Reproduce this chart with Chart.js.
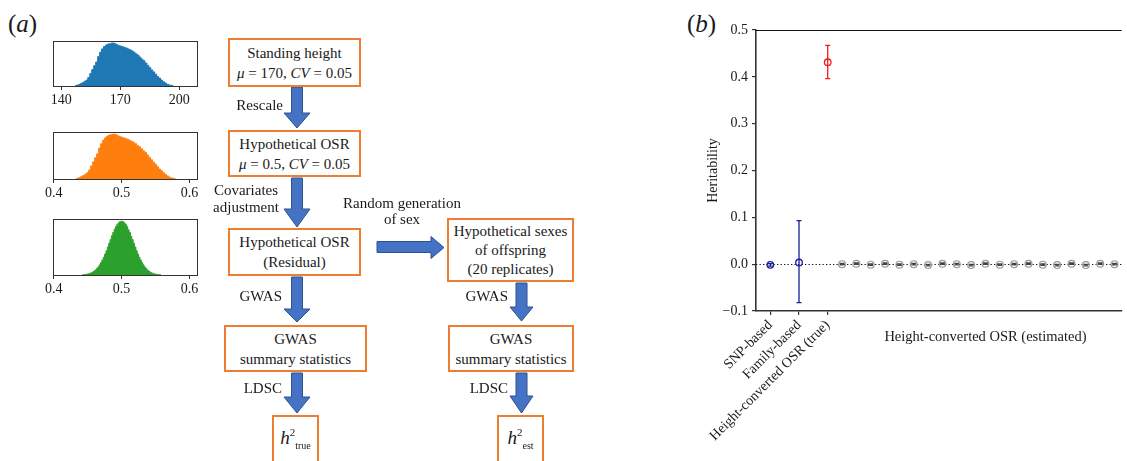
<!DOCTYPE html>
<html>
<head>
<meta charset="utf-8">
<script src="https://cdn.jsdelivr.net/npm/chart.js@4.4.1/dist/chart.umd.min.js"></script>
<style>
  body { margin:0; width:1127px; height:461px; overflow:hidden; background:#fff; position:relative;
         font-family:"Liberation Serif","DejaVu Serif",serif; color:#1a1a1a; }
  canvas { position:absolute; }
  .panel { position:absolute; font-size:25px; line-height:26px; }
  .box { position:absolute; box-sizing:border-box; border:2px solid #ed7d31; background:#fff;
         display:flex; flex-direction:column; justify-content:center; align-items:center;
         font-size:15px; line-height:20px; text-align:center; white-space:nowrap; }
  .lbl { position:absolute; font-size:15px; line-height:17px; white-space:nowrap; }
  .h2 i { font-size:19px; }
  .h2 .sup { font-size:11px; position:relative; top:-8px; }
  .h2 .sub { font-size:10px; position:relative; top:5px; }
</style>
</head>
<body>

<div class="panel" style="left:8px;top:11px;">(<i>a</i>)</div>
<div class="panel" style="left:687px;top:11px;">(<i>b</i>)</div>

<canvas id="histHeight" width="170" height="72" style="left:40px;top:38px;"></canvas>
<canvas id="histOsr" width="170" height="74" style="left:40px;top:129px;"></canvas>
<canvas id="histResid" width="170" height="83" style="left:40px;top:216px;"></canvas>

<!-- flowchart -->
<svg width="1127" height="461" style="position:absolute;left:0;top:0;">
  <g fill="#4472c4" stroke="#2f528f" stroke-width="1">
    <polygon points="291.5,87 302.5,87 302.5,113 310,113 297,128 284,113 291.5,113"/>
    <polygon points="291.5,178 302.5,178 302.5,209 310,209 297,227 284,209 291.5,209"/>
    <polygon points="291.5,277 302.5,277 302.5,309 310,309 297,322 284,309 291.5,309"/>
    <polygon points="291.5,373 302.5,373 302.5,397 310,397 297,413 284,397 291.5,397"/>
    <polygon points="516,283 527,283 527,307 533,307 521.5,321 510,307 516,307"/>
    <polygon points="516,373 527,373 527,396 533,396 521.5,413 510,396 516,396"/>
    <polygon points="377,241.5 431,241.5 431,236.5 444,247.5 431,258.5 431,252.5 377,252.5"/>
  </g>
</svg>

<div class="box" style="left:228px;top:38px;width:133px;height:49px;">
  <div>Standing height</div><div><i>μ</i> = 170, <i>CV</i> = 0.05</div>
</div>
<div class="box" style="left:228px;top:130px;width:133px;height:47px;">
  <div>Hypothetical OSR</div><div><i>μ</i> = 0.5, <i>CV</i> = 0.05</div>
</div>
<div class="box" style="left:228px;top:228px;width:133px;height:48px;">
  <div>Hypothetical OSR</div><div>(Residual)</div>
</div>
<div class="box" style="left:447px;top:218px;width:127px;height:64px;line-height:19px;">
  <div>Hypothetical sexes</div><div>of offspring</div><div>(20 replicates)</div>
</div>
<div class="box" style="left:224px;top:325px;width:143px;height:47px;">
  <div>GWAS</div><div>summary statistics</div>
</div>
<div class="box" style="left:448px;top:325px;width:126px;height:47px;">
  <div>GWAS</div><div>summary statistics</div>
</div>
<div class="box h2" style="left:272px;top:415px;width:47px;height:60px;padding-bottom:12px;">
  <span><i>h</i><span class="sup">2</span><span class="sub">true</span></span>
</div>
<div class="box h2" style="left:497px;top:415px;width:47px;height:60px;padding-bottom:12px;">
  <span><i>h</i><span class="sup">2</span><span class="sub">est</span></span>
</div>

<div class="lbl" style="right:844px;top:97px;">Rescale</div>
<div class="lbl" style="left:201px;top:182px;width:90px;text-align:center;">Covariates<br>adjustment</div>
<div class="lbl" style="left:332px;top:195px;width:140px;text-align:center;line-height:16px;">Random generation<br>of sex</div>
<div class="lbl" style="right:845px;top:288px;">GWAS</div>
<div class="lbl" style="right:845px;top:380px;">LDSC</div>
<div class="lbl" style="right:619px;top:288px;">GWAS</div>
<div class="lbl" style="right:619px;top:380px;">LDSC</div>

<canvas id="h2Chart" width="447" height="461" style="left:680px;top:0px;"></canvas>

<script>
const FONT = '"Liberation Serif", "DejaVu Serif", serif';

// histogram counts (relative heights)
const heightBinStart = 147;
const heightBinWidth = 1;
const heightCounts = [1, 2, 4, 7, 10, 14, 18, 26, 38, 50,
  62, 73, 90, 103, 113, 120, 125, 128, 129, 131,
  130, 127, 124, 122, 120, 118, 116, 113, 110, 107,
  103, 98, 94, 88, 82, 77, 70, 63, 56, 49,
  43, 36, 29, 24, 18, 13, 9, 5, 3, 2, 1];
// OSR is the rescaled height, same counts on new bins
const osrBinStart = 0.4324;
const osrBinWidth = 0.00294;
const osrCounts = heightCounts;
const residBinStart = 0.442;
const residBinWidth = 0.002;
const residCounts = [0.5, 0.6, 0.9, 1.2, 1.7, 2.3, 3.1, 4.2, 5.6, 7.3,
  9.5, 12, 15, 19, 23, 28, 33, 39, 45, 52,
  59, 66, 73, 79, 85, 90, 94, 97, 99, 100,
  99, 97, 94, 90, 84, 79, 72, 66, 59, 52,
  45, 39, 33, 28, 23, 19, 15, 12, 9.4, 7.2,
  5.5, 4.1, 3.0, 2.2, 1.6, 1.1, 0.8, 0.6, 0.4];
const heightTicks = [140, 170, 200];
const osrTicks = [0.4, 0.5, 0.6];

// panel b
const refLabels = ['SNP-based', 'Family-based', 'Height-converted OSR (true)'];
const refX = [1, 3, 5];
const refH2 = [-0.0015, 0.0035, 0.431];
const refLo = [-0.004, -0.082, 0.396];
const refHi = [0.001, 0.093, 0.467];
const refColors = ['#1e1e9c', '#1e1e9c', '#f01c1c'];
const repX = [6, 7, 8, 9, 10, 11, 12, 13, 14, 15, 16, 17, 18, 19, 20, 21, 22, 23, 24, 25];
const repH2 = [0.000, 0.001, -0.001, 0.001, -0.001, 0.000, -0.002, 0.001, 0.000, -0.002,
  0.001, -0.001, 0.000, 0.001, -0.001, -0.002, 0.001, -0.002, 0.001, 0.000];
const repSe = [0.0015, 0.0015, 0.0015, 0.0015, 0.0015, 0.0015, 0.0015, 0.0015, 0.0015, 0.0015,
  0.0015, 0.0015, 0.0015, 0.0015, 0.0015, 0.0015, 0.0015, 0.0015, 0.0015, 0.0015];
const estLabel = 'Height-converted OSR (estimated)';
const estLabelX = 16;
const yTicks = [-0.1, 0, 0.1, 0.2, 0.3, 0.4, 0.5];

const frame = {
  id: 'frame',
  afterDraw(chart) {
    const { ctx, chartArea: a } = chart;
    ctx.save();
    ctx.strokeStyle = '#333';
    ctx.lineWidth = 1;
    ctx.strokeRect(Math.round(a.left) + 0.5, Math.round(a.top) + 0.5,
      Math.round(a.right - a.left), Math.round(a.bottom - a.top));
    ctx.restore();
  }
};

function histogram(id, start, width, counts, color, xMin, xMax, ticks, yMax) {
  const pts = counts.map((c, i) => ({ x: start + i * width, y: c }));
  new Chart(document.getElementById(id), {
    type: 'line',
    data: { datasets: [{ data: pts, stepped: 'middle', fill: 'origin',
      backgroundColor: color, borderColor: color, borderWidth: 1, pointRadius: 0 }] },
    options: {
      responsive: false, animation: false, devicePixelRatio: 1,
      layout: { padding: { left: 13, right: 13, top: 3, bottom: 0 } },
      plugins: { legend: { display: false }, tooltip: { enabled: false } },
      scales: {
        x: {
          type: 'linear', min: xMin, max: xMax,
          afterBuildTicks: s => { s.ticks = ticks.map(v => ({ value: v })); },
          afterFit: s => { s.height = 24; s.paddingLeft = 0; s.paddingRight = 0; },
          ticks: { color: '#1a1a1a', padding: 2, maxRotation: 0, font: { family: FONT, size: 14 },
            callback: v => String(v) },
          grid: { drawOnChartArea: false, drawTicks: true, tickLength: 4, color: '#333' },
          border: { display: false }
        },
        y: { display: false, min: 0, max: yMax }
      }
    },
    plugins: [frame]
  });
}

histogram('histHeight', heightBinStart, heightBinWidth, heightCounts, '#1f77b4', 135.8, 209, heightTicks, 137);
histogram('histOsr', osrBinStart, osrBinWidth, osrCounts, '#ff7f0e', 0.399, 0.611, osrTicks, 137);
histogram('histResid', residBinStart, residBinWidth, residCounts, '#2ca02c', 0.399, 0.611, osrTicks, 104);

const errorBars = {
  id: 'errorBars',
  beforeDatasetsDraw(chart) {
    const { ctx, chartArea, scales: { x, y } } = chart;
    ctx.save();
    // dotted zero line
    const y0 = Math.round(y.getPixelForValue(0)) + 0.5;
    ctx.strokeStyle = '#111';
    ctx.lineWidth = 1.2;
    ctx.setLineDash([1.3, 2.2]);
    ctx.beginPath();
    ctx.moveTo(chartArea.left, y0);
    ctx.lineTo(chartArea.right, y0);
    ctx.stroke();
    ctx.setLineDash([]);
    chart.data.datasets.forEach(ds => {
      ds.data.forEach((p, i) => {
        const px = x.getPixelForValue(p.x);
        const top = y.getPixelForValue(ds.errHi[i]);
        const bot = y.getPixelForValue(ds.errLo[i]);
        ctx.strokeStyle = Array.isArray(ds.errColor) ? ds.errColor[i] : ds.errColor;
        ctx.lineWidth = 1.3;
        ctx.beginPath();
        ctx.moveTo(px, top); ctx.lineTo(px, bot);
        ctx.moveTo(px - 2.5, top); ctx.lineTo(px + 2.5, top);
        ctx.moveTo(px - 2.5, bot); ctx.lineTo(px + 2.5, bot);
        ctx.stroke();
      });
    });
    ctx.restore();
  },
  afterDraw(chart) {
    const { ctx, chartArea, scales: { x } } = chart;
    ctx.save();
    ctx.strokeStyle = '#111';
    ctx.lineWidth = 1.2;
    ctx.beginPath();
    ctx.moveTo(chartArea.left, chartArea.top + 0.5);
    ctx.lineTo(chartArea.right, chartArea.top + 0.5);
    ctx.stroke();
    ctx.fillStyle = '#1a1a1a';
    ctx.font = '14.5px ' + FONT;
    ctx.textAlign = 'center';
    ctx.textBaseline = 'middle';
    ctx.fillText(estLabel, x.getPixelForValue(estLabelX), 337);
    ctx.restore();
  }
};

new Chart(document.getElementById('h2Chart'), {
  type: 'scatter',
  data: {
    datasets: [
      {
        data: refX.map((v, i) => ({ x: v, y: refH2[i] })),
        errLo: refLo, errHi: refHi, errColor: refColors,
        pointStyle: 'circle', pointRadius: 3.3, pointBorderWidth: 1.3,
        pointBorderColor: refColors, pointBackgroundColor: 'rgba(0,0,0,0)'
      },
      {
        data: repX.map((v, i) => ({ x: v, y: repH2[i] })),
        errLo: repH2.map((v, i) => v - repSe[i]), errHi: repH2.map((v, i) => v + repSe[i]),
        errColor: '#444',
        pointStyle: 'circle', pointRadius: 3.4, pointBorderWidth: 1.2,
        pointBorderColor: '#999', pointBackgroundColor: 'rgba(0,0,0,0)'
      }
    ]
  },
  options: {
    responsive: false, animation: false, devicePixelRatio: 1,
    layout: { padding: { left: 0, right: 0, top: 30, bottom: 0 } },
    plugins: { legend: { display: false }, tooltip: { enabled: false } },
    scales: {
      x: {
        type: 'linear', min: 0, max: 25.5,
        afterBuildTicks: s => { s.ticks = refX.map(v => ({ value: v })); },
        afterFit: s => { s.height = 150; s.paddingLeft = 0; s.paddingRight = 0; },
        ticks: { autoSkip: false, minRotation: 45, maxRotation: 45, padding: 2, color: '#1a1a1a',
          font: { family: FONT, size: 14 },
          callback: v => { const k = refX.indexOf(v); return k >= 0 ? refLabels[k] : ''; } },
        grid: { drawOnChartArea: false, drawTicks: true, tickLength: 4, color: '#333', lineWidth: 1.2 },
        border: { color: '#333', width: 1.6 }
      },
      y: {
        min: -0.1, max: 0.5,
        afterBuildTicks: s => { s.ticks = yTicks.map(v => ({ value: v })); },
        afterFit: s => { s.width = 76; s.paddingTop = 0; s.paddingBottom = 0; },
        ticks: { padding: 4, color: '#1a1a1a', font: { family: FONT, size: 14 },
          callback: v => v < 0 ? '\u2212' + Math.abs(v).toFixed(1) : v.toFixed(1) },
        grid: { drawOnChartArea: false, drawTicks: true, tickLength: 4, color: '#333', lineWidth: 1.2 },
        border: { color: '#333', width: 1.6 },
        title: { display: true, text: 'Heritability', color: '#1a1a1a',
          font: { family: FONT, size: 14 }, padding: { top: 24.6, bottom: 0 } }
      }
    }
  },
  plugins: [errorBars]
});
</script>
</body>
</html>
